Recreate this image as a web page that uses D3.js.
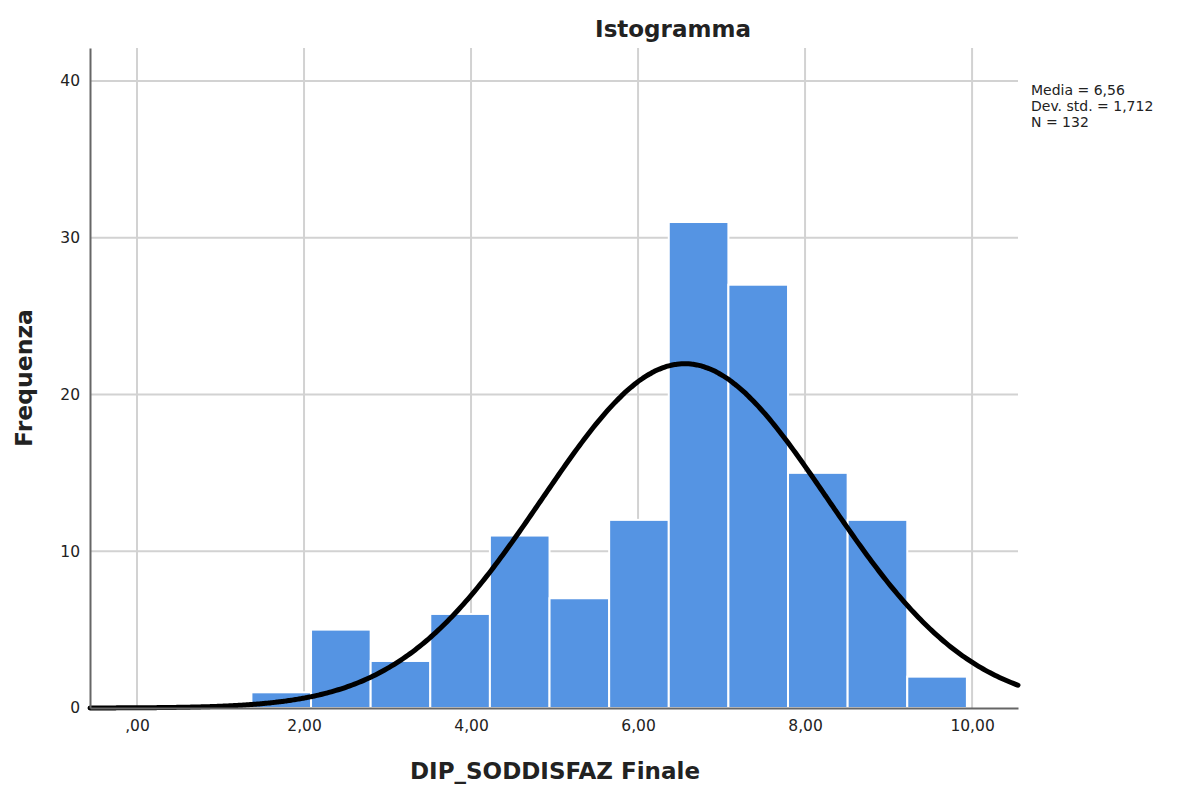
<!DOCTYPE html>
<html>
<head>
<meta charset="utf-8">
<script src="https://cdn.jsdelivr.net/npm/d3@7/dist/d3.min.js"></script>
<style>
  html, body { margin: 0; padding: 0; background: #fff; }
  svg { display: block; }
  text { font-family: "DejaVu Sans", "Liberation Sans", sans-serif; fill: #222; }
</style>
</head>
<body>
<svg id="chart" width="1187" height="787"></svg>
<script>
// Bin edges of the histogram and the count in each bin
const binEdges = [1.37, 2.084, 2.798, 3.512, 4.226, 4.94, 5.654, 6.368, 7.082, 7.796, 8.51, 9.224, 9.938];
const counts = [1, 5, 3, 6, 11, 7, 12, 31, 27, 15, 12, 2];

// Summary statistics shown beside the plot
const mean = 6.56;
const stdDev = 1.712;
const nObs = 132;
const statLines = ["Media = 6,56", "Dev. std. = 1,712", "N = 132"];

// Axis ticks
const xTicks = [0, 2, 4, 6, 8, 10];
const xTickLabels = [",00", "2,00", "4,00", "6,00", "8,00", "10,00"];
const yTicks = [0, 10, 20, 30, 40];

const svg = d3.select("#chart");
const m = { left: 90, right: 1018, top: 48, bottom: 708 };

const x = d3.scaleLinear().domain([-0.563, 10.55]).range([m.left, m.right]);
const y = d3.scaleLinear().domain([0, 42.1]).range([m.bottom, m.top]);

// Grid lines
const grid = svg.append("g");
grid.selectAll("line.v").data(xTicks).join("line")
  .attr("x1", d => x(d)).attr("x2", d => x(d))
  .attr("y1", m.top).attr("y2", m.bottom)
  .attr("stroke", "#d2d2d2").attr("stroke-width", 2);
grid.selectAll("line.h").data(yTicks.filter(d => d > 0)).join("line")
  .attr("x1", m.left).attr("x2", m.right)
  .attr("y1", d => y(d)).attr("y2", d => y(d))
  .attr("stroke", "#d2d2d2").attr("stroke-width", 2);

// Histogram bars
const bins = counts.map((c, i) => ({ x0: binEdges[i], x1: binEdges[i + 1], c }));
svg.append("g").selectAll("rect").data(bins).join("rect")
  .attr("x", d => x(d.x0))
  .attr("width", d => x(d.x1) - x(d.x0))
  .attr("y", d => y(d.c))
  .attr("height", d => y(0) - y(d.c))
  .attr("fill", "#5594e3")
  .attr("stroke", "#ffffff")
  .attr("stroke-width", 2);

// Normal curve scaled to counts
const binWidth = binEdges[1] - binEdges[0];
const normal = v => nObs * binWidth / (stdDev * Math.sqrt(2 * Math.PI)) *
  Math.exp(-0.5 * Math.pow((v - mean) / stdDev, 2));
const xs = d3.range(0, 401).map(i => x.domain()[0] + (x.domain()[1] - x.domain()[0]) * i / 400);
svg.append("path")
  .datum(xs)
  .attr("d", d3.line().x(d => x(d)).y(d => y(normal(d))).curve(d3.curveBasis))
  .attr("fill", "none")
  .attr("stroke", "#000")
  .attr("stroke-width", 5)
  .attr("stroke-linecap", "round");

// Axes
const xAxis = d3.axisBottom(x).tickValues(xTicks)
  .tickFormat((d, i) => xTickLabels[i]).tickSize(0).tickPadding(12);
const gx = svg.append("g").attr("transform", `translate(0,${m.bottom})`).call(xAxis);
gx.select(".domain").attr("stroke", "#666").attr("stroke-width", 2);
gx.selectAll("text").attr("font-size", 15.5).attr("fill", "#222")
  .attr("font-family", "DejaVu Sans, sans-serif");

const yAxis = d3.axisLeft(y).tickValues(yTicks).tickSize(0).tickPadding(10);
const gy = svg.append("g").attr("transform", `translate(${m.left},0)`).call(yAxis);
gy.select(".domain").attr("stroke", "#666").attr("stroke-width", 2);
gy.selectAll("text").attr("font-size", 15.5).attr("fill", "#222")
  .attr("font-family", "DejaVu Sans, sans-serif");

// Title and axis titles
svg.append("text").attr("x", 673).attr("y", 37).attr("text-anchor", "middle")
  .attr("font-size", 23).attr("font-weight", "bold").text("Istogramma");
svg.append("text").attr("x", 555).attr("y", 779).attr("text-anchor", "middle")
  .attr("font-size", 23).attr("font-weight", "bold").text("DIP_SODDISFAZ Finale");
svg.append("text").attr("transform", "translate(32,378) rotate(-90)")
  .attr("text-anchor", "middle")
  .attr("font-size", 23.5).attr("font-weight", "bold").text("Frequenza");

// Statistics block
svg.append("g").selectAll("text").data(statLines).join("text")
  .attr("x", 1031).attr("y", (d, i) => 95 + i * 16)
  .attr("font-size", 14).text(d => d);
</script>
</body>
</html>
